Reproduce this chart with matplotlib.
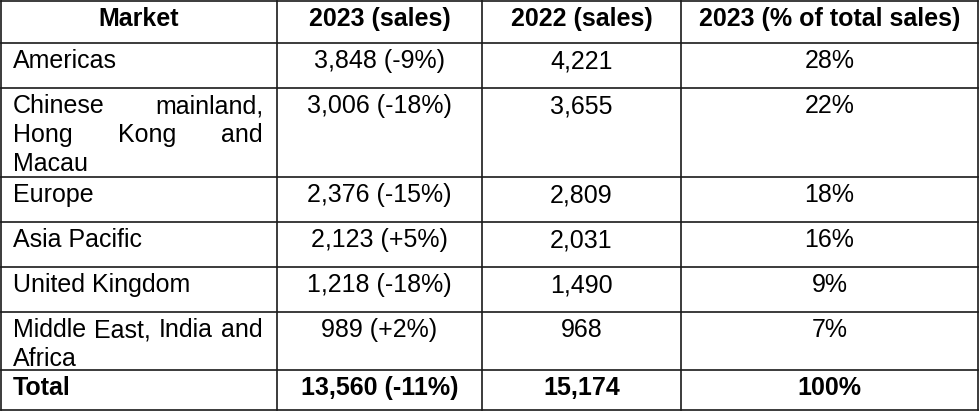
import matplotlib
matplotlib.use('Agg')
import matplotlib.pyplot as plt

# ---- data ----
headers = ["Market", "2023 (sales)", "2022 (sales)", "2023 (% of total sales)"]
markets = ["Americas",
           "Chinese mainland, Hong Kong and Macau",
           "Europe",
           "Asia Pacific",
           "United Kingdom",
           "Middle East, India and Africa"]
sales_2023 = [3848, 3006, 2376, 2123, 1218, 989]
change_2023 = [-9, -18, -15, 5, -18, 2]
sales_2022 = [4221, 3655, 2809, 2031, 1490, 968]
share_2023 = [28, 22, 18, 16, 9, 7]
total_label = "Total"
total_2023 = 13560
total_change = -11
total_2022 = 15174
total_share = 100

# ---- layout ----
FONT = ["Liberation Sans", "DejaVu Sans"]
FS = 18
col_edges = [1, 277, 482, 681, 978]
row_edges = [1, 43, 88, 177, 222, 267, 312, 370, 410]
pad_left = 12
content_w = 250
wrap_w = 251
baseline_off = 25
line_h = 29

fig = plt.figure(figsize=(9.8, 4.11), dpi=100)
ax = fig.add_axes([0, 0, 1, 1])
ax.set_xlim(0, 980)
ax.set_ylim(411, 0)
ax.axis('off')
renderer = fig.canvas.get_renderer()


def text_w(s, weight='normal'):
    t = ax.text(0, 0, s, fontsize=FS, fontweight=weight, family=FONT)
    w = t.get_window_extent(renderer).width
    t.remove()
    return w


def fmt_change(c):
    return f"{c:+d}%" if c > 0 else f"{c:d}%"


def wrap(s, width):
    words = s.split()
    lines, cur = [], []
    for w in words:
        trial = " ".join(cur + [w])
        if cur and text_w(trial) > width:
            lines.append(cur)
            cur = [w]
        else:
            cur.append(w)
    if cur:
        lines.append(cur)
    return lines


def draw_justified(x0, ytop, s, weight='normal'):
    lines = wrap(s, wrap_w)
    for i, words in enumerate(lines):
        y = ytop + baseline_off + i * line_h
        last = (i == len(lines) - 1)
        if last or len(words) == 1:
            ax.text(x0, y, " ".join(words), fontsize=FS, fontweight=weight,
                    family=FONT, ha='left', va='baseline', color='black')
        else:
            ws = [text_w(w, weight) for w in words]
            gap = (content_w - sum(ws)) / (len(words) - 1)
            x = x0
            for w, wd in zip(words, ws):
                ax.text(x, y, w, fontsize=FS, fontweight=weight, family=FONT,
                        ha='left', va='baseline', color='black')
                x += wd + gap


def center(ci, ytop, s, weight='normal'):
    xc = (col_edges[ci] + col_edges[ci + 1]) / 2
    ax.text(xc, ytop + baseline_off, s, fontsize=FS, fontweight=weight,
            family=FONT, ha='center', va='baseline', color='black')


# grid lines
lc = '#1a1a1a'
lw = 1.2
for y in row_edges:
    ax.plot([col_edges[0], col_edges[-1]], [y, y], color=lc, lw=lw,
            solid_capstyle='projecting')
for x in col_edges:
    ax.plot([x, x], [row_edges[0], row_edges[-1]], color=lc, lw=lw,
            solid_capstyle='projecting')

# header
for ci, h in enumerate(headers):
    center(ci, row_edges[0], h, 'bold')

# body
for ri, m in enumerate(markets):
    ytop = row_edges[ri + 1]
    draw_justified(col_edges[0] + pad_left, ytop, m)
    center(1, ytop, f"{sales_2023[ri]:,} ({fmt_change(change_2023[ri])})")
    center(2, ytop, f"{sales_2022[ri]:,}")
    center(3, ytop, f"{share_2023[ri]}%")

# total
ytop = row_edges[-2]
ax.text(col_edges[0] + pad_left, ytop + baseline_off, total_label, fontsize=FS,
        fontweight='bold', family=FONT, ha='left', va='baseline', color='black')
center(1, ytop, f"{total_2023:,} ({fmt_change(total_change)})", 'bold')
center(2, ytop, f"{total_2022:,}", 'bold')
center(3, ytop, f"{total_share}%", 'bold')

fig.savefig('out.png', dpi=100, facecolor='white')
